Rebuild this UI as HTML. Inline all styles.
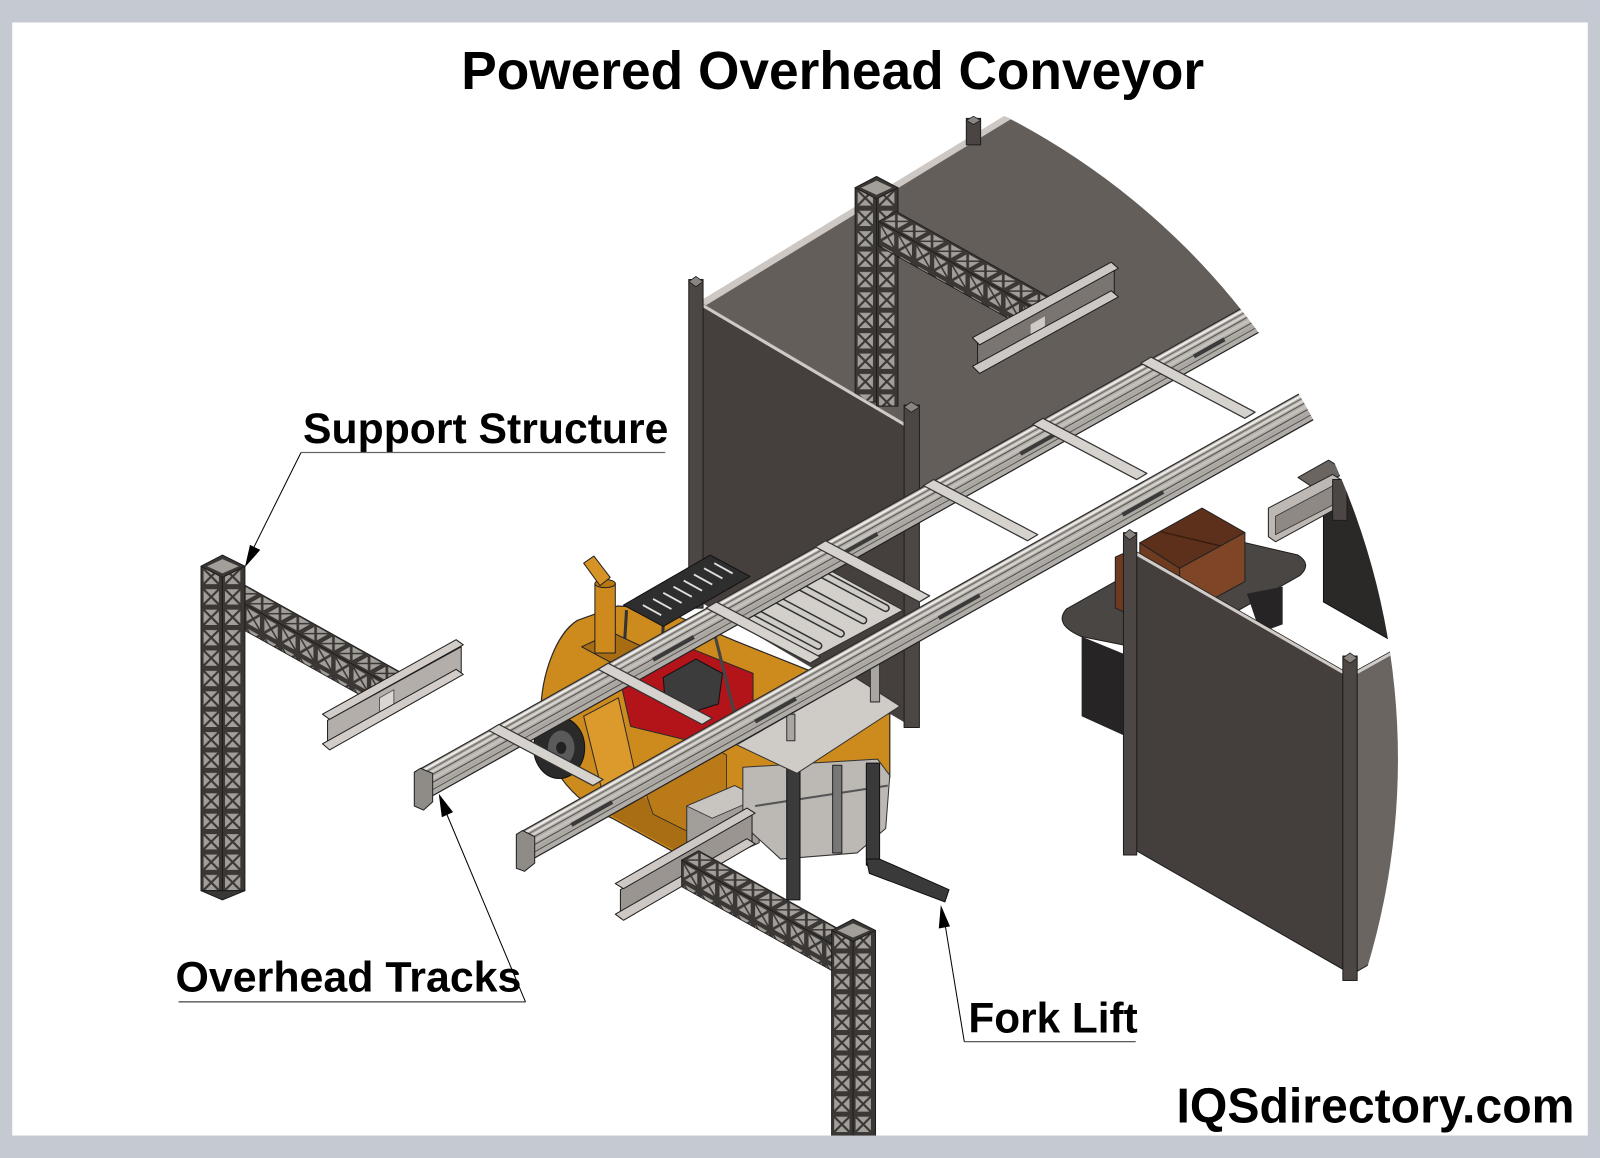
<!DOCTYPE html>
<html><head><meta charset="utf-8"><style>
html,body{margin:0;padding:0;background:#fff;}
svg{display:block;}
text{font-family:"Liberation Sans",Arial,sans-serif;font-weight:bold;fill:#000;}
</style></head><body>
<svg width="1600" height="1158" viewBox="0 0 1568 1135" preserveAspectRatio="none" xmlns="http://www.w3.org/2000/svg">
<defs>
<pattern id="lat" width="20" height="20" patternUnits="userSpaceOnUse">
<rect width="20" height="20" fill="#3a3735"/>
<path d="M4,2.5H16L10,8.5Z M4,17.5H16L10,11.5Z M2.5,4V16L8.5,10Z M17.5,4V16L11.5,10Z" fill="#a29e9a"/>
</pattern>
<clipPath id="cc"><circle cx="662" cy="744" r="708"/></clipPath>
</defs>
<rect width="1568" height="1135" fill="#fff"/>

<g clip-path="url(#cc)" stroke-linejoin="round">
<!-- back top surface -->
<polygon points="688,297 990,113 1500,113 1500,143 893,484 893,418" fill="#645e5a"/>
<polygon points="686,295 990,110 992,116 689,301" fill="#cdc8c3"/>
<rect x="947" y="116" width="14" height="26" fill="#4a4542" stroke="#1e1e1e"/>
<polygon points="947,118 954,114 961,118 954,122" fill="#8a8581" stroke="#1e1e1e" stroke-width="0.8"/>

<!-- top lattice column -->
<g transform="translate(838,184)"><rect width="21" height="210" fill="url(#lat)" stroke="#1e1e1e"/></g>
<g transform="translate(859,184)"><rect width="21" height="214" fill="url(#lat)" stroke="#1e1e1e"/></g>
<polygon points="838,184 859,173 880,184 859,195" fill="#3a3735" stroke="#1e1e1e"/>
<polygon points="844,184 859,177 874,184 859,191" fill="#a29e9a"/>
<!-- top lattice beam -->
<g transform="matrix(0.873,0.488,0,1,861,217)"><rect width="172" height="24" fill="url(#lat)" stroke="#1e1e1e"/></g>
<g transform="matrix(0.873,0.488,0.873,-0.488,861,217)"><rect width="172" height="20" fill="url(#lat)" stroke="#1e1e1e"/></g>
<!-- top I-beam -->
<polygon points="958,336 1092,262 1092,290 958,364" fill="#7a7570" stroke="#1e1e1e"/>
<polygon points="1010,318 1024,310 1024,330 1010,338" fill="#cfcac5"/>
<polygon points="953,331 1089,257 1096,263 960,338" fill="#cdc8c3" stroke="#1e1e1e"/>
<polygon points="953,359 1089,285 1096,291 960,366" fill="#cdc8c3" stroke="#1e1e1e"/>

<!-- dark wall -->
<polygon points="688,297 893,418 893,712 688,591" fill="#45403d"/>
<line x1="688" y1="299" x2="893" y2="420" stroke="#cfcac5" stroke-width="3"/>
<rect x="675" y="274" width="14" height="322" fill="#4c4744" stroke="#1e1e1e"/>
<polygon points="675,276 682,271 689,276 682,281" fill="#8a8581" stroke="#1e1e1e" stroke-width="0.8"/>
<rect x="886" y="397" width="15" height="316" fill="#4c4744" stroke="#1e1e1e"/>
<polygon points="886,399 893,394 901,399 893,404" fill="#8a8581" stroke="#1e1e1e" stroke-width="0.8"/>

<!-- right side: table -->
<path d="M1045,597 L1178,522 L1272,544 Q1286,553 1274,564 L1140,640 L1060,624 Q1032,612 1045,597 Z" fill="#4a4644" stroke="#1e1e1e"/>
<polygon points="1060,624 1104,642 1104,722 1060,702" fill="#262424"/>
<polygon points="1222,582 1257,575 1257,612 1235,620" fill="#262424"/>
<!-- brown box -->
<polygon points="1117,532 1178,498 1220,522 1156,557" fill="#5d301b" stroke="#222"/>
<line x1="1137" y1="521" x2="1196" y2="535" stroke="#3a1d10" stroke-width="1.5"/>
<polygon points="1156,557 1220,522 1220,570 1156,605" fill="#7e4627" stroke="#222"/>
<polygon points="1117,532 1156,557 1156,605 1117,580" fill="#6e3b20" stroke="#222"/>
<polygon points="1093,546 1102,542 1102,600 1093,596" fill="#6e3b20" stroke="#222"/>
<!-- right fragment -->
<polygon points="1297,495 1330,478 1420,478 1420,660 1297,590" fill="#2b2928" stroke="#111"/>
<polygon points="1272,468 1302,451 1320,462 1290,480" fill="#6b6561" stroke="#222"/>
<polygon points="1243,498 1306,465 1314,470 1314,496 1250,531 1243,526" fill="#bdb8b3" stroke="#222"/>
<polygon points="1250,506 1312,473 1312,492 1250,524" fill="#8e8985" stroke="#333" stroke-width="0.8"/>
<rect x="1306" y="470" width="14" height="40" fill="#4c4744" stroke="#1e1e1e"/>
<!-- right panel -->
<polygon points="1114,541 1316,657 1316,950 1114,834" fill="#443f3c" stroke="#1e1e1e"/>
<line x1="1114" y1="543" x2="1316" y2="659" stroke="#d0cbc6" stroke-width="3"/>
<polygon points="1330,657 1420,607 1420,900 1330,952" fill="#6b6561" stroke="#1e1e1e"/>
<line x1="1330" y1="659" x2="1420" y2="609" stroke="#d0cbc6" stroke-width="3"/>
<rect x="1101" y="522" width="13" height="316" fill="#4c4744" stroke="#1e1e1e"/>
<polygon points="1101,524 1107,519 1114,524 1107,529" fill="#8a8581" stroke="#1e1e1e" stroke-width="0.8"/>
<rect x="1316" y="643" width="14" height="318" fill="#4c4744" stroke="#1e1e1e"/>
<polygon points="1316,645 1323,640 1330,645 1323,650" fill="#8a8581" stroke="#1e1e1e" stroke-width="0.8"/>

<!-- FORKLIFT -->
<path d="M566,608 C546,620 530,660 530,700 C530,748 560,785 600,802 L662,836 L700,842 L738,822 L738,790 L800,772 L872,762 L872,700 L800,660 L720,628 L645,596 L605,594 Z" fill="#cd8a1d" stroke="#2a2a2a" stroke-width="1.2"/>
<path d="M600,800 L662,834 L700,840 L724,828 L652,792 L612,772 Z" fill="#a96d13"/>
<polygon points="627,760 690,728 712,740 712,800 680,818 640,798" fill="#b97a17" stroke="#2a2a2a" stroke-width="0.8"/>
<polygon points="572,702 606,684 622,756 590,775" fill="#dc9a2c" stroke="#2a2a2a"/>
<!-- red seat area -->
<polygon points="608,668 668,632 738,660 738,708 692,730 618,712" fill="#b2141a" stroke="#2a2a2a"/>
<polygon points="650,664 682,646 708,660 704,690 672,700 652,690" fill="#3c3c3c" stroke="#111"/>
<line x1="700" y1="620" x2="720" y2="700" stroke="#444" stroke-width="3"/>
<!-- overhead guard grid -->
<line x1="614" y1="598" x2="610" y2="665" stroke="#333" stroke-width="3"/>
<line x1="650" y1="612" x2="648" y2="650" stroke="#333" stroke-width="3"/>
<polygon points="611,593 696,544 735,565 650,614" fill="#2e2e2e" stroke="#111"/>
<g stroke="#e0e0e0" stroke-width="1.8">
<line x1="630" y1="593" x2="648" y2="603"/>
<line x1="640" y1="587" x2="658" y2="597"/>
<line x1="650" y1="581" x2="668" y2="591"/>
<line x1="660" y1="575" x2="678" y2="585"/>
<line x1="670" y1="569" x2="688" y2="579"/>
<line x1="680" y1="563" x2="698" y2="573"/>
<line x1="690" y1="557" x2="708" y2="567"/>
<line x1="700" y1="552" x2="718" y2="562"/>
</g>
<!-- exhaust -->
<polygon points="570,634 600,620 630,634 600,650" fill="#a86c12" stroke="#222"/>
<rect x="583" y="572" width="20" height="68" fill="#cf8a1d" stroke="#222"/>
<ellipse cx="593" cy="572" rx="10" ry="4" fill="#b97712" stroke="#222"/>
<polygon points="572,552 582,545 598,566 588,574" fill="#d79426" stroke="#222"/>
<!-- tires -->
<ellipse cx="548" cy="733" rx="25" ry="30" fill="#2a2a2a" stroke="#111"/>
<ellipse cx="550" cy="733" rx="13" ry="17" fill="#5a5a5a"/>
<ellipse cx="550" cy="733" rx="5" ry="6" fill="#222"/>
<ellipse cx="852" cy="786" rx="15" ry="26" fill="#2a2a2a"/>
<!-- gray box -->
<polygon points="673,790 720,770 744,782 744,826 700,846 673,834" fill="#a29e9a" stroke="#333"/>
<polygon points="673,790 720,770 744,782 698,802" fill="#c8c4c0" stroke="#333" stroke-width="0.8"/>
<!-- mast frame -->
<polygon points="728,752 860,744 872,760 868,812 840,836 765,842 728,808" fill="#bcb8b4" stroke="#333"/>
<line x1="740" y1="790" x2="870" y2="770" stroke="#555" stroke-width="2"/>
<rect x="771" y="752" width="13" height="130" fill="#3b3b3b" stroke="#111"/>
<rect x="816" y="750" width="9" height="86" fill="#777" stroke="#222"/>
<rect x="849" y="748" width="13" height="100" fill="#3a3a3a" stroke="#111"/>
<polygon points="849,842 862,842 930,872 926,884 852,856" fill="#3a3a3a" stroke="#111"/>
<!-- lower plate -->
<polygon points="722,730 838,664 882,692 781,758" fill="#cfcbc7" stroke="#333"/>
<rect x="771" y="700" width="8" height="26" fill="#a9a5a1" stroke="#333"/>
<rect x="853" y="622" width="9" height="66" fill="#a9a5a1" stroke="#333"/>
<!-- upper platform and rollers -->
<polygon points="722,612 815,560 885,598 792,648" fill="#d3cfcb" stroke="#333"/>
<g stroke-linecap="round">
<line x1="740" y1="600" x2="802" y2="633" stroke="#333" stroke-width="8"/>
<line x1="740" y1="600" x2="802" y2="633" stroke="#cfcbc7" stroke-width="5"/>
<line x1="762" y1="588" x2="824" y2="621" stroke="#333" stroke-width="8"/>
<line x1="762" y1="588" x2="824" y2="621" stroke="#cfcbc7" stroke-width="5"/>
<line x1="784" y1="575" x2="846" y2="608" stroke="#333" stroke-width="8"/>
<line x1="784" y1="575" x2="846" y2="608" stroke="#cfcbc7" stroke-width="5"/>
<line x1="806" y1="563" x2="868" y2="596" stroke="#333" stroke-width="8"/>
<line x1="806" y1="563" x2="868" y2="596" stroke="#cfcbc7" stroke-width="5"/>
</g>

<!-- RAILS -->
<polygon points="406,757 1250,283.5 1250,316.5 406,790" fill="#b0aca8"/>
<g fill="none">
<line x1="406" y1="757" x2="1250" y2="283.5" stroke="#2a2a2a" stroke-width="1.2"/>
<line x1="406" y1="760" x2="1250" y2="286.5" stroke="#f0ece8" stroke-width="2"/>
<line x1="406" y1="763" x2="1250" y2="289.5" stroke="#6d6965" stroke-width="1"/>
<line x1="406" y1="766" x2="1250" y2="292.5" stroke="#d8d4d0" stroke-width="2"/>
<line x1="406" y1="769" x2="1250" y2="295.5" stroke="#57534f" stroke-width="1"/>
<line x1="406" y1="773" x2="1250" y2="299.5" stroke="#c4c0bc" stroke-width="3"/>
<line x1="406" y1="777" x2="1250" y2="303.5" stroke="#4e4a46" stroke-width="1"/>
<line x1="406" y1="781" x2="1250" y2="307.5" stroke="#a9a5a1" stroke-width="2"/>
<line x1="406" y1="784" x2="1250" y2="310.5" stroke="#5a5652" stroke-width="1"/>
<line x1="406" y1="790" x2="1250" y2="316.5" stroke="#222" stroke-width="1.2"/>
</g>
<g stroke="#3a3a3a" stroke-width="4">
<line x1="640" y1="646.7" x2="680" y2="624.3"/>
<line x1="820" y1="545.7" x2="860" y2="523.3"/>
<line x1="1000" y1="444.8" x2="1040" y2="422.3"/>
<line x1="1170" y1="349.4" x2="1200" y2="332.6"/>
</g>
<polygon points="406,757 412,753 424,758 424,786 415,794 406,790" fill="#8f8b87" stroke="#222"/>
<polygon points="506,818 1300,371 1300,404 506,851" fill="#b0aca8"/>
<g fill="none">
<line x1="506" y1="818" x2="1300" y2="371" stroke="#2a2a2a" stroke-width="1.2"/>
<line x1="506" y1="821" x2="1300" y2="374" stroke="#f0ece8" stroke-width="2"/>
<line x1="506" y1="824" x2="1300" y2="377" stroke="#6d6965" stroke-width="1"/>
<line x1="506" y1="827" x2="1300" y2="380" stroke="#d8d4d0" stroke-width="2"/>
<line x1="506" y1="830" x2="1300" y2="383" stroke="#57534f" stroke-width="1"/>
<line x1="506" y1="834" x2="1300" y2="387" stroke="#c4c0bc" stroke-width="3"/>
<line x1="506" y1="838" x2="1300" y2="391" stroke="#4e4a46" stroke-width="1"/>
<line x1="506" y1="842" x2="1300" y2="395" stroke="#a9a5a1" stroke-width="2"/>
<line x1="506" y1="845" x2="1300" y2="398" stroke="#5a5652" stroke-width="1"/>
<line x1="506" y1="851" x2="1300" y2="404" stroke="#222" stroke-width="1.2"/>
</g>
<g stroke="#3a3a3a" stroke-width="4">
<line x1="560" y1="808.6" x2="600" y2="786.1"/>
<line x1="740" y1="707.3" x2="780" y2="684.7"/>
<line x1="920" y1="605.9" x2="960" y2="583.4"/>
<line x1="1100" y1="504.6" x2="1140" y2="482.1"/>
</g>
<polygon points="506,818 512,814 524,820 524,846 514,854 506,851" fill="#8f8b87" stroke="#222"/>
<g fill="#d6d2ce" stroke="#333" stroke-width="1.2">
<polygon points="1118,356 1128,350 1230,404 1220,410"/>
<polygon points="1012,416 1022,410 1124,464 1114,470"/>
<polygon points="905,476 915,470 1017,524 1007,530"/>
<polygon points="799,536 809,530 911,584 901,590"/>
<polygon points="692,596 702,590 804,644 794,650"/>
<polygon points="586,656 596,650 698,704 688,710"/>
<polygon points="479,716 489,710 591,764 581,770"/>
</g>

<!-- bottom I-beam -->
<polygon points="608,872 737,798 737,826 608,900" fill="#9a9590" stroke="#1e1e1e"/>
<polygon points="603,866 732,792 740,797 611,871" fill="#cdc8c3" stroke="#1e1e1e"/>
<polygon points="603,896 732,822 740,827 611,902" fill="#cdc8c3" stroke="#1e1e1e"/>
<!-- bottom lattice beam -->
<g transform="matrix(0.873,0.488,0,1,668,843)"><rect width="178" height="26" fill="url(#lat)" stroke="#1e1e1e"/></g>
<g transform="matrix(0.873,0.488,0.873,-0.488,668,843)"><rect width="178" height="19" fill="url(#lat)" stroke="#1e1e1e"/></g>
<!-- bottom column -->
<g transform="translate(815,912)"><rect width="21" height="210" fill="url(#lat)" stroke="#1e1e1e"/></g>
<g transform="translate(836,912)"><rect width="22" height="210" fill="url(#lat)" stroke="#1e1e1e"/></g>
<polygon points="815,912 836,901 858,912 836,923" fill="#3a3735" stroke="#1e1e1e"/>
<polygon points="821,912 836,905 852,912 836,919" fill="#a29e9a"/>

<!-- LEFT support structure -->
<g transform="matrix(0.873,0.488,0,1,222,582)"><rect width="176" height="26" fill="url(#lat)" stroke="#1e1e1e"/></g>
<g transform="matrix(0.873,0.488,0.873,-0.488,222,582)"><rect width="176" height="19" fill="url(#lat)" stroke="#1e1e1e"/></g>
<g transform="translate(197,555)"><rect width="21" height="318" fill="url(#lat)" stroke="#1e1e1e"/></g>
<g transform="translate(218,555)"><rect width="22" height="318" fill="url(#lat)" stroke="#1e1e1e"/></g>
<polygon points="197,873 218,882 240,873" fill="#3a3735" stroke="#1e1e1e"/>
<polygon points="197,555 218,544 240,555 218,566" fill="#3a3735" stroke="#1e1e1e"/>
<polygon points="203,555 218,548 234,555 218,562" fill="#a29e9a"/>
<!-- left I-beam -->
<polygon points="321,706 452,634 452,660 321,732" fill="#b3aea9" stroke="#1e1e1e"/>
<polygon points="372,684 386,676 386,694 372,702" fill="#dad6d2" stroke="#444" stroke-width="0.8"/>
<polygon points="316,700 447,627 454,632 323,705" fill="#d2cdc8" stroke="#1e1e1e"/>
<polygon points="316,729 447,656 454,661 323,735" fill="#d2cdc8" stroke="#1e1e1e"/>
</g>

<!-- frame border drawn on top -->
<rect x="0" y="0" width="1568" height="22" fill="#c4c9d2"/>
<rect x="0" y="1113" width="1568" height="22" fill="#c4c9d2"/>
<rect x="0" y="0" width="12" height="1135" fill="#c4c9d2"/>
<rect x="1556" y="0" width="12" height="1135" fill="#c4c9d2"/>

<!-- Labels -->
<text x="452" y="87" font-size="53" textLength="728" lengthAdjust="spacingAndGlyphs">Powered Overhead Conveyor</text>

<text x="297" y="434" font-size="42" textLength="358" lengthAdjust="spacingAndGlyphs">Support Structure</text>
<line x1="295" y1="443.5" x2="652" y2="443.5" stroke="#666" stroke-width="1.2"/>
<line x1="295" y1="443.5" x2="248" y2="538" stroke="#000" stroke-width="1"/>
<polygon points="240,556 255,539 245,534" fill="#000"/>

<text x="172" y="972" font-size="42" textLength="339" lengthAdjust="spacingAndGlyphs">Overhead Tracks</text>
<line x1="175" y1="982" x2="515" y2="982" stroke="#444" stroke-width="1.2"/>
<line x1="515" y1="982" x2="437" y2="796" stroke="#000" stroke-width="1"/>
<polygon points="430,778 444,796 433,801" fill="#000"/>

<text x="949" y="1012" font-size="42" textLength="166" lengthAdjust="spacingAndGlyphs">Fork Lift</text>
<line x1="945" y1="1021" x2="1113" y2="1021" stroke="#444" stroke-width="1.2"/>
<line x1="945" y1="1021" x2="926" y2="905" stroke="#000" stroke-width="1"/>
<polygon points="922,887 931,908 920,910" fill="#000"/>

<text x="1153" y="1100" font-size="48" textLength="390" lengthAdjust="spacingAndGlyphs">IQSdirectory.com</text>
</svg>
</body></html>
